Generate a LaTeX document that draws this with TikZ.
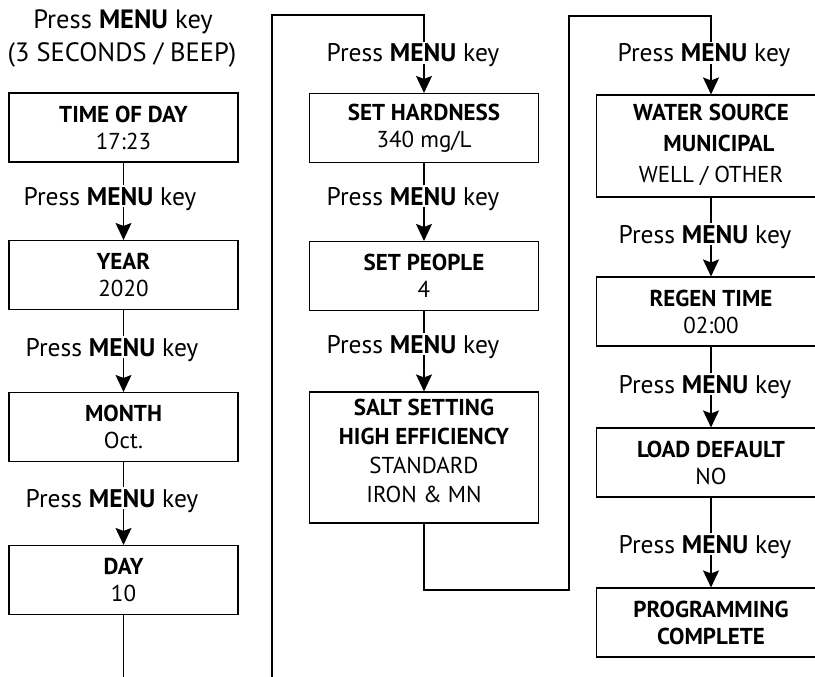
\documentclass[tikz,border=0pt]{standalone}
\usepackage{fontspec}
\setmainfont{PT Sans}
\usetikzlibrary{arrows.meta}
\tikzset{
  box/.style={draw, line width=1.1pt, minimum width=229pt, minimum height=69pt,
    align=center, inner sep=0pt, font=\fontsize{23}{27}\selectfont},
  lbl/.style={anchor=base, inner xsep=0pt, inner ysep=2pt, text depth=0pt,
    font=\fontsize{25.5}{28}\selectfont},
  ttl/.style={anchor=base, inner sep=0pt, font=\fontsize{26.5}{30}\selectfont},
  conn/.style={line width=1.4pt},
  arr/.style={conn, -{Stealth[length=17pt,width=16pt,inset=3pt]}},
}
\newcommand{\pmk}{Press \textbf{MENU} key}
\begin{document}
\begin{tikzpicture}[x=1pt,y=-1pt]
\useasboundingbox (0,0) rectangle (815,677);

% title
\node[ttl] (t1) at (123,29) {\pmk};
\node[ttl] (t2) at (122,62) {(3 SECONDS / BEEP)};

% column 1
\node[box] (tod) at (123.5,127.5) {\textbf{TIME OF DAY}\\17:23};
\node[box] (year) at (123.5,275) {\textbf{YEAR}\\2020};
\node[box] (month) at (123.5,427) {\textbf{MONTH}\\Oct.};
\node[box] (day) at (123.5,580) {\textbf{DAY}\\10};
\node[lbl] (l1) at (110,205) {\pmk};
\node[lbl] (l2) at (112,356) {\pmk};
\node[lbl] (l3) at (112,507) {\pmk};

% column 2
\node[box] (hard) at (424,128) {\textbf{SET HARDNESS}\\340 mg/L};
\node[box] (people) at (424,276) {\textbf{SET PEOPLE}\\4};
\node[box, minimum height=131pt, font=\fontsize{23}{29}\selectfont] (salt) at (424,457.5)
  {\textbf{SALT SETTING}\\\textbf{HIGH EFFICIENCY}\\STANDARD\\IRON \& MN\rule[-14pt]{0pt}{0pt}};
\node[lbl] (l4) at (413,62) {\pmk};
\node[lbl] (l5) at (413,205) {\pmk};
\node[lbl] (l6) at (413,353) {\pmk};

% column 3
\node[box, minimum height=102pt, font=\fontsize{23}{31}\selectfont] (water) at (711,146)
  {\textbf{WATER SOURCE}\\\hspace*{16pt}\textbf{MUNICIPAL}\\WELL / OTHER\rule[-5pt]{0pt}{0pt}};
\node[box] (regen) at (711,311.5) {\textbf{REGEN TIME}\\02:00};
\node[box] (load) at (711,462.5) {\textbf{LOAD DEFAULT}\\NO};
\node[box] (prog) at (711,622.5) {\textbf{PROGRAMMING}\\\textbf{COMPLETE}};
\node[lbl] (l7) at (704,62) {\pmk};
\node[lbl] (l8) at (705,243) {\pmk};
\node[lbl] (l9) at (705,393) {\pmk};
\node[lbl] (l10) at (705,553) {\pmk};

% free ends of the long connectors
\coordinate (c1end) at (123.5,690);
\coordinate (c2start) at (272,690);
\coordinate (c2top) at (272,15);
\coordinate (c3bot) at (569,590);
\coordinate (c3top) at (569,16);

% connectors column 1
\draw[conn] (tod.south) -- (tod.south |- l1.north);
\draw[arr] (year.north |- l1.south) -- (year.north);
\draw[conn] (year.south) -- (year.south |- l2.north);
\draw[arr] (month.north |- l2.south) -- (month.north);
\draw[conn] (month.south) -- (month.south |- l3.north);
\draw[arr] (day.north |- l3.south) -- (day.north);
\draw[conn] (day.south) -- (c1end);

% connectors column 2
\draw[conn] (c2start) -- (c2top) -| (hard.north |- l4.north);
\draw[arr] (hard.north |- l4.south) -- (hard.north);
\draw[conn] (hard.south) -- (hard.south |- l5.north);
\draw[arr] (people.north |- l5.south) -- (people.north);
\draw[conn] (people.south) -- (people.south |- l6.north);
\draw[arr] (salt.north |- l6.south) -- (salt.north);
\draw[conn] (salt.south) |- (c3bot) -- (c3top) -| (water.north |- l7.north);

% connectors column 3
\draw[arr] (water.north |- l7.south) -- (water.north);
\draw[conn] (water.south) -- (water.south |- l8.north);
\draw[arr] (regen.north |- l8.south) -- (regen.north);
\draw[conn] (regen.south) -- (regen.south |- l9.north);
\draw[arr] (load.north |- l9.south) -- (load.north);
\draw[conn] (load.south) -- (load.south |- l10.north);
\draw[arr] (prog.north |- l10.south) -- (prog.north);
\end{tikzpicture}
\end{document}
